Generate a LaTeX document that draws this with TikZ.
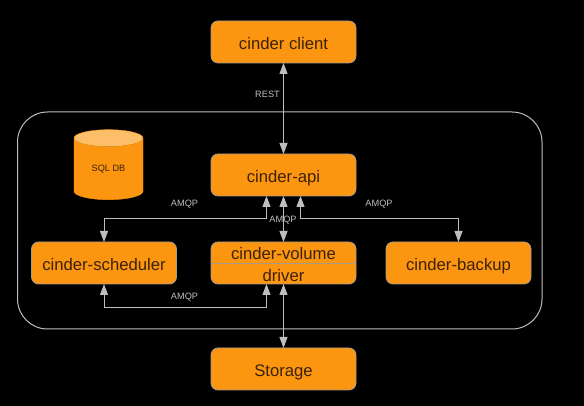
\documentclass[tikz,border=0pt]{standalone}
\usepackage{fontspec}
\setmainfont{Liberation Sans}
\usepackage{xcolor}
\usepackage{tikz}
\usetikzlibrary{arrows.meta}
\usetikzlibrary{calc}
\usetikzlibrary{shapes.geometric}
\definecolor{boxorange}{HTML}{FC9510}
\definecolor{boxtop}{HTML}{FDBE6A}
\definecolor{boxedge}{HTML}{A89C88}
\definecolor{boxtext}{HTML}{3C2208}
\definecolor{linkgray}{HTML}{BEBEBE}
\tikzset{
  servicebox/.style={draw=boxedge,fill=boxorange,line width=0.8pt,rounded corners=7pt,
    minimum width=145pt,minimum height=42pt,inner sep=0pt,outer sep=0pt,align=center,
    text height=16pt,text depth=0pt,
    text=boxtext,font=\fontsize{16.7}{22}\selectfont},
  biglink/.style={draw=linkgray,line width=1pt,{Triangle[length=11pt,width=8pt,fill=linkgray]}-{Triangle[length=11pt,width=8pt,fill=linkgray]}},
  linklabel/.style={text=linkgray,font=\fontsize{9.2}{11}\selectfont,inner sep=0pt},
}
\begin{document}
\begin{tikzpicture}[scale=1.000000,x=1pt,y=1pt]
\fill[color=black] (0.000000,0.000000) rectangle (584.000000,406.000000);
\useasboundingbox (0.000000,0.000000) rectangle (584.000000,406.000000);
% Drawing outer frame
\draw[color=linkgray,line width=1pt,rounded corners=30pt] (17.500000,77.000000) rectangle (542.000000,294.000000);
% Drawing boxes
\node[servicebox] (client) at (283.500000,364.000000) {cinder client};
\node[servicebox] (api) at (283.500000,231.000000) {cinder-api};
\node[servicebox] (scheduler) at (104.000000,143.000000) {cinder-scheduler};
\node[servicebox,text height=38pt] (volume) at (283.500000,143.000000) {cinder-volume\\driver};
\node[servicebox] (backup) at (458.500000,143.000000) {cinder-backup};
\node[servicebox] (storage) at (283.500000,37.000000) {Storage};
% Line across the volume box
\draw[color=boxedge,line width=0.8pt] (volume.west) -- (volume.east);
% Drawing database
\node[cylinder,shape border rotate=90,aspect=0.5,draw=boxorange,cylinder uses custom fill,
  cylinder body fill=boxorange,cylinder end fill=boxtop,minimum width=69pt,minimum height=70pt,
  inner sep=0pt,text=boxtext,font=\fontsize{9.2}{11}\selectfont] (sqldb) at (108.500000,237.000000) {SQL DB};
% Drawing links
\draw[biglink] (client.south) -- (api.north);
\draw[biglink] (api.south) -- (volume.north);
\draw[biglink] (volume.south) -- (storage.north);
\draw[biglink] ($(api.south)+(-17,0)$) |- ($(scheduler.north)+(0,23)$) -- (scheduler.north);
\draw[biglink] ($(api.south)+(17,0)$) |- ($(backup.north)+(0,23)$) -- (backup.north);
\draw[biglink] (scheduler.south) |- ($(volume.south)+(-17,-24)$) -- ($(volume.south)+(-17,0)$);
% Drawing labels
\node[linklabel] (restlabel) at (267.500000,311.500000) {REST};
\node[linklabel] (amqpleft) at (184.500000,201.500000) {AMQP};
\node[linklabel] (amqpmid) at (283.000000,185.500000) {AMQP};
\node[linklabel] (amqpright) at (379.000000,201.500000) {AMQP};
\node[linklabel] (amqplow) at (184.500000,108.500000) {AMQP};
\end{tikzpicture}
\end{document}
